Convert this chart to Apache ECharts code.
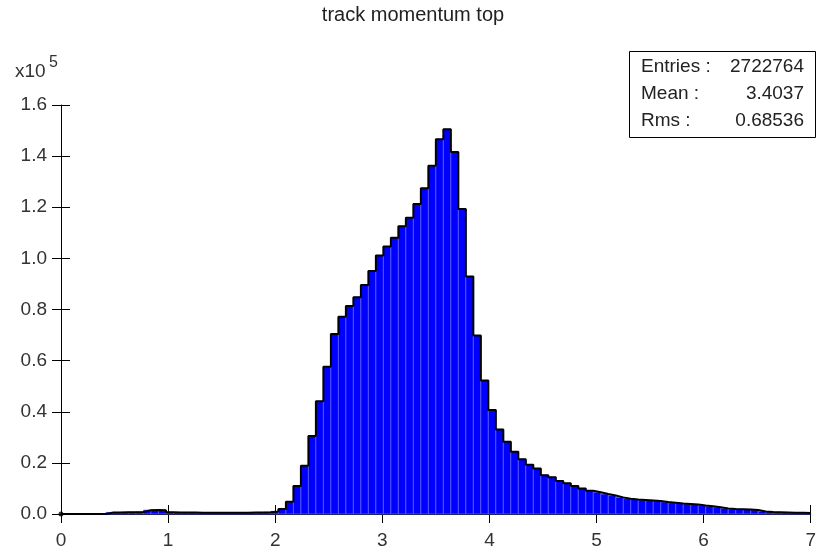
<!DOCTYPE html>
<html><head><meta charset="utf-8">
<script src="https://cdn.jsdelivr.net/npm/echarts@6/dist/echarts.min.js"></script>
<style>html,body{margin:0;padding:0;background:#fff}#c{width:819px;height:550px}</style>
</head><body><div id="c"></div>
<script>
// histogram: 100 bins over [0, 7], counts in units of 1e5
const xMin = 0, xMax = 7, binWidth = 0.07;
const counts = [
  0, 0, 0, 0, 0, 0, 0.006, 0.006, 0.007, 0.007,
  0.008, 0.015, 0.016, 0.015, 0.007, 0.006, 0.006, 0.006, 0.005, 0.005,
  0.005, 0.005, 0.005, 0.005, 0.005, 0.006, 0.006, 0.007, 0.010, 0.020,
  0.048, 0.110, 0.189, 0.305, 0.441, 0.576, 0.704, 0.772, 0.814, 0.848,
  0.896, 0.951, 1.011, 1.046, 1.081, 1.126, 1.159, 1.213, 1.274, 1.362,
  1.466, 1.505, 1.416, 1.193, 0.929, 0.698, 0.522, 0.407, 0.331, 0.283,
  0.244, 0.214, 0.193, 0.178, 0.152, 0.144, 0.129, 0.120, 0.110, 0.100,
  0.091, 0.085, 0.078, 0.072, 0.065, 0.060, 0.057, 0.055, 0.053, 0.051,
  0.047, 0.044, 0.041, 0.039, 0.037, 0.033, 0.030, 0.026, 0.022, 0.020,
  0.019, 0.018, 0.016, 0.010, 0.008, 0.007, 0.006, 0.005, 0.005, 0.004
];
const xTickLabels = ['0','1','2','3','4','5','6','7'];
const yMax = 1.6, yInterval = 0.2;
const titleText = 'track momentum top';
const statsLabels = ['Entries :', 'Mean :', 'Rms :'];
const statsValues = ['2722764', '3.4037', '0.68536'];

const binData = counts.map((v, i) => [xMin + i * binWidth, xMin + (i + 1) * binWidth, v]);
const outline = counts.map((v, i) => [xMin + i * binWidth, v]);
outline.push([xMax, counts[counts.length - 1]]);

const FONT = '"Liberation Sans", Arial, sans-serif';
const FS = 19;
const chart = echarts.init(document.getElementById('c'));

const axisCommon = {
  type: 'value', splitLine: {show: false}
};
chart.setOption({
  animation: false,
  backgroundColor: '#fff',
  grid: {left: 61, right: 8, top: 105, bottom: 36, containLabel: false},
  xAxis: [
    Object.assign({}, axisCommon, {
      position: 'bottom', min: xMin, max: xMax, interval: 1,
      axisLine: {show: true, lineStyle: {color: '#000', width: 1}},
      axisTick: {show: true, inside: false, length: 9, lineStyle: {color: '#000'}},
      axisLabel: {margin: 17, fontSize: FS, fontFamily: FONT, color: '#333',
        formatter: v => xTickLabels[Math.round(v)] }
    }),
    Object.assign({}, axisCommon, {
      position: 'bottom', offset: 0, min: xMin, max: xMax, interval: 1,
      axisLine: {show: false},
      axisTick: {show: true, inside: true, length: 9, lineStyle: {color: '#000'}},
      axisLabel: {show: false}
    })
  ],
  yAxis: [
    Object.assign({}, axisCommon, {
      position: 'left', min: 0, max: yMax, interval: yInterval,
      axisLine: {show: true, lineStyle: {color: '#000', width: 1}},
      axisTick: {show: true, inside: false, length: 9, lineStyle: {color: '#000'}},
      axisLabel: {margin: 14, fontSize: FS, fontFamily: FONT, color: '#333',
        formatter: v => v.toFixed(1)}
    }),
    Object.assign({}, axisCommon, {
      position: 'left', offset: 0, min: 0, max: yMax, interval: yInterval,
      axisLine: {show: false},
      axisTick: {show: true, inside: true, length: 9, lineStyle: {color: '#000'}},
      axisLabel: {show: false}
    })
  ],
  series: [
    {
      type: 'custom', xAxisIndex: 0, yAxisIndex: 0,
      data: binData, encode: {x: [0, 1], y: 2},
      renderItem: function (params, api) {
        const p0 = api.coord([api.value(0), api.value(2)]);
        const p1 = api.coord([api.value(1), 0]);
        return {type: 'rect',
          shape: {x: p0[0], y: p0[1], width: p1[0] - p0[0], height: p1[1] - p0[1]},
          style: {fill: '#0000ff', stroke: '#5a5aff', lineWidth: 0.8}};
      },
      z: 2
    },
    {
      type: 'line', xAxisIndex: 0, yAxisIndex: 0, step: 'end',
      data: outline, showSymbol: false, symbol: 'none',
      lineStyle: {color: '#000', width: 2}, z: 3
    },
    {
      type: 'scatter', xAxisIndex: 0, yAxisIndex: 0,
      data: [[xMin, 0]], symbolSize: 5, itemStyle: {color: '#000'}, z: 4
    }
  ],
  graphic: [
    {type: 'text', x: 413, y: 5,
      style: {text: titleText, font: '20px ' + FONT, fill: '#222', textAlign: 'center'}},
    {type: 'text', x: 15, y: 62,
      style: {text: 'x10', font: FS + 'px ' + FONT, fill: '#333'}},
    {type: 'text', x: 49, y: 55,
      style: {text: '5', font: '16px ' + FONT, fill: '#333'}},
    {type: 'rect', shape: {x: 629.5, y: 51.5, width: 186, height: 86},
      style: {fill: '#fff', stroke: '#000', lineWidth: 1}, z: 10},
    ...statsLabels.map((t, i) => ({type: 'text', x: 641, y: 67 + i * 26.7, z: 11,
      style: {text: t, font: FS + 'px ' + FONT, fill: '#222', textVerticalAlign: 'middle'}})),
    ...statsValues.map((t, i) => ({type: 'text', x: 804, y: 67 + i * 26.7, z: 11,
      style: {text: t, font: FS + 'px ' + FONT, fill: '#222', textAlign: 'right', textVerticalAlign: 'middle'}}))
  ]
});
</script></body></html>
